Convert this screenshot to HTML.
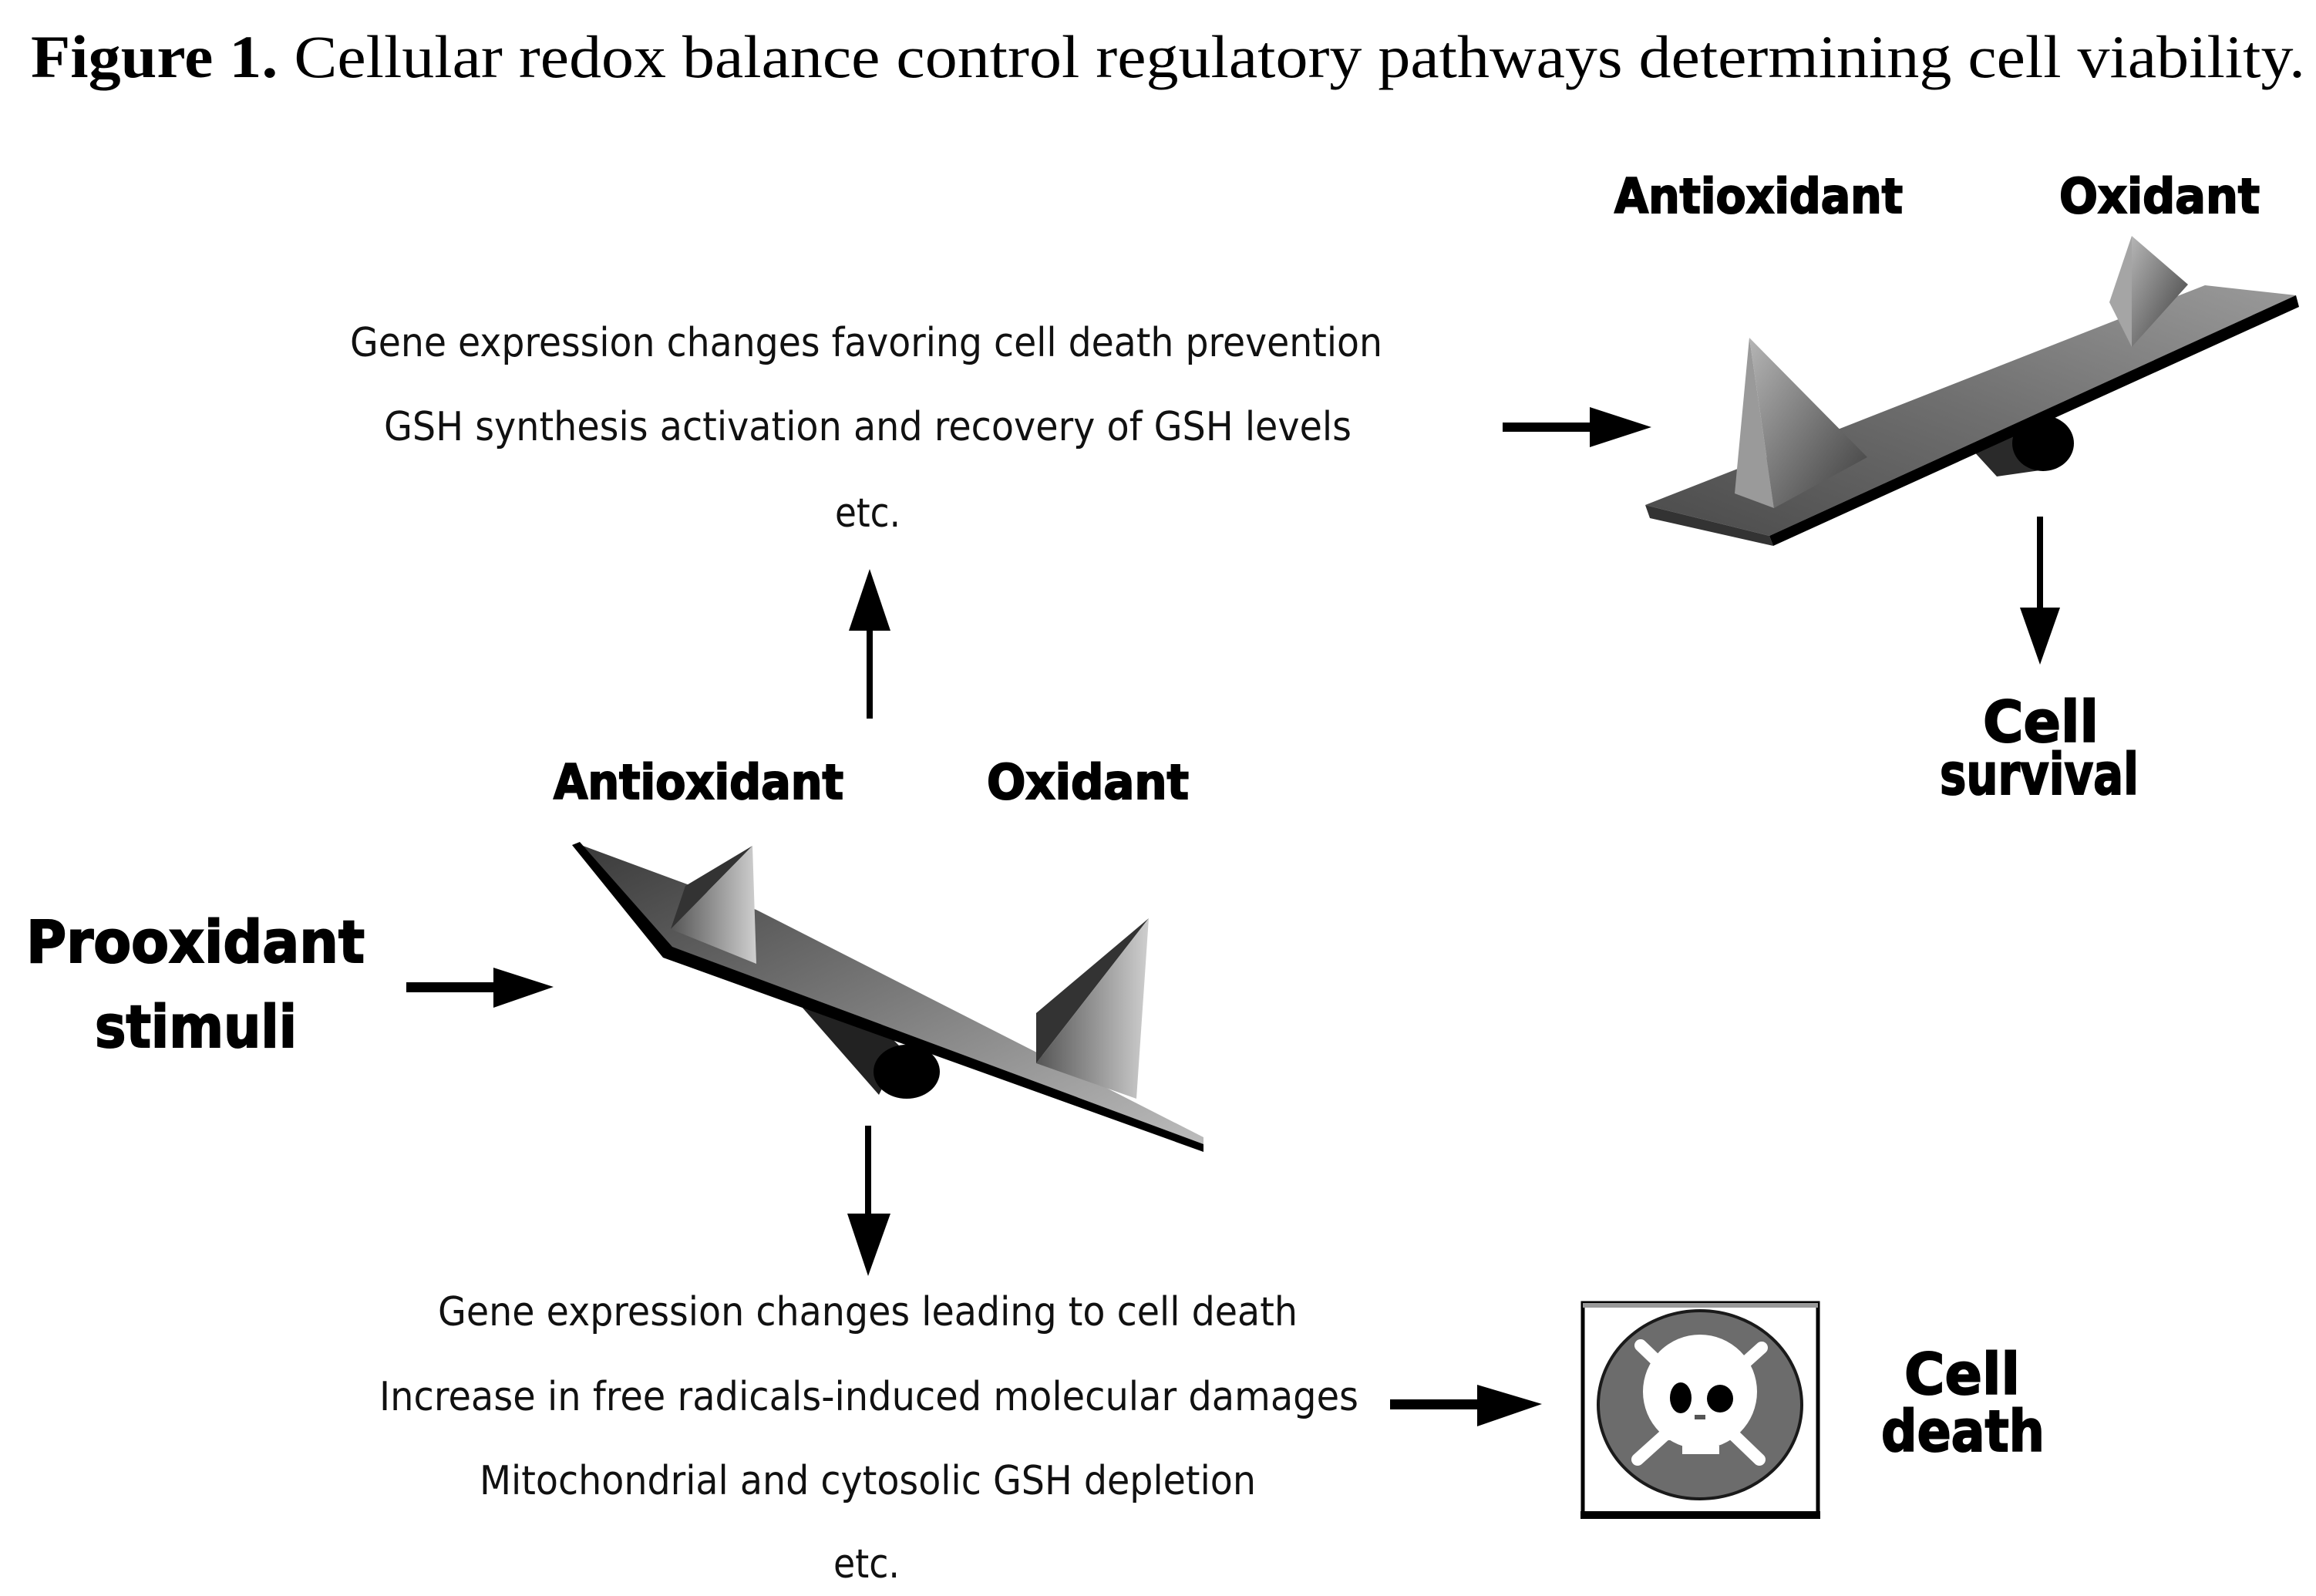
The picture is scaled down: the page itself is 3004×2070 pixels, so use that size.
<!DOCTYPE html>
<html><head><meta charset="utf-8"><style>
html,body{margin:0;padding:0;background:#fff;}
svg{display:block;}
</style></head><body>
<svg width="3004" height="2070" viewBox="0 0 3004 2070" xmlns="http://www.w3.org/2000/svg">
<defs>
<linearGradient id="g1" x1="0" y1="0" x2="1" y2="1">
<stop offset="0" stop-color="#3a3a3a"/><stop offset="0.5" stop-color="#7a7a7a"/><stop offset="1" stop-color="#bdbdbd"/>
</linearGradient>
<linearGradient id="g2" x1="0" y1="1" x2="1" y2="0">
<stop offset="0" stop-color="#4a4a4a"/><stop offset="0.5" stop-color="#6f6f6f"/><stop offset="1" stop-color="#9a9a9a"/>
</linearGradient>
<linearGradient id="sp" x1="0" y1="0" x2="1" y2="0">
<stop offset="0" stop-color="#555"/><stop offset="1" stop-color="#cfcfcf"/>
</linearGradient>
<linearGradient id="sp2" x1="0" y1="0" x2="1" y2="1">
<stop offset="0" stop-color="#b5b5b5"/><stop offset="1" stop-color="#3c3c3c"/>
</linearGradient>
</defs>

<!-- Title -->
<text x="40" y="100" font-family="Liberation Serif, serif" font-size="78" textLength="2950" lengthAdjust="spacingAndGlyphs"><tspan font-weight="bold">Figure 1.</tspan> Cellular redox balance control regulatory pathways determining cell viability.</text>

<g font-family="DejaVu Sans, Liberation Sans, sans-serif" font-size="52" fill="#111">
<text x="454" y="462" textLength="1339" lengthAdjust="spacingAndGlyphs">Gene expression changes favoring cell death prevention</text>
<text x="498" y="571" textLength="1255" lengthAdjust="spacingAndGlyphs">GSH synthesis activation and recovery of GSH levels</text>
<text x="1083" y="683" textLength="85" lengthAdjust="spacingAndGlyphs">etc.</text>
<text x="568" y="1719" textLength="1115" lengthAdjust="spacingAndGlyphs">Gene expression changes leading to cell death</text>
<text x="492" y="1829" textLength="1270" lengthAdjust="spacingAndGlyphs">Increase in free radicals-induced molecular damages</text>
<text x="622" y="1938" textLength="1007" lengthAdjust="spacingAndGlyphs">Mitochondrial and cytosolic GSH depletion</text>
<text x="1081" y="2046" textLength="86" lengthAdjust="spacingAndGlyphs">etc.</text>
</g>

<g font-family="DejaVu Sans, Liberation Sans, sans-serif" font-weight="bold" fill="#000" stroke="#000" stroke-width="2">
<text x="2094" y="276" font-size="62" textLength="374" lengthAdjust="spacingAndGlyphs">Antioxidant</text>
<text x="2671" y="276" font-size="62" textLength="260" lengthAdjust="spacingAndGlyphs">Oxidant</text>
<text x="718" y="1036" font-size="62" textLength="376" lengthAdjust="spacingAndGlyphs">Antioxidant</text>
<text x="1280" y="1036" font-size="62" textLength="262" lengthAdjust="spacingAndGlyphs">Oxidant</text>
<text x="34" y="1248" font-size="76" textLength="439" lengthAdjust="spacingAndGlyphs">Prooxidant</text>
<text x="123" y="1358" font-size="76" textLength="262" lengthAdjust="spacingAndGlyphs">stimuli</text>
<text x="2572" y="962" font-size="74" textLength="150" lengthAdjust="spacingAndGlyphs">Cell</text>
<text x="2516" y="1030" font-size="74" textLength="258" lengthAdjust="spacingAndGlyphs">survival</text>
<text x="2470" y="1808" font-size="74" textLength="150" lengthAdjust="spacingAndGlyphs">Cell</text>
<text x="2440" y="1882" font-size="74" textLength="212" lengthAdjust="spacingAndGlyphs">death</text>
</g>

<!-- Arrows -->
<g fill="#000" stroke="none">
<!-- up arrow -->
<rect x="1124" y="815" width="8" height="117"/>
<polygon points="1128,738 1101,818 1155,818"/>
<!-- down arrow bottom -->
<rect x="1122" y="1460" width="8" height="116"/>
<polygon points="1126,1655 1099,1574 1155,1574"/>
<!-- right arrow to death -->
<rect x="1803" y="1815" width="115" height="13"/>
<polygon points="2000,1821 1916,1796 1916,1850"/>
<!-- prooxidant arrow -->
<rect x="527" y="1274" width="115" height="13"/>
<polygon points="718,1280 640,1255 640,1307"/>
<!-- top right arrow -->
<rect x="1949" y="548" width="115" height="12"/>
<polygon points="2142,554 2062,528 2062,580"/>
<!-- survival down arrow -->
<rect x="2642" y="670" width="8" height="120"/>
<polygon points="2646,862 2620,788 2672,788"/>
</g>

<!-- Seesaw top-right -->
<polygon points="2557,582 2630,560 2660,608 2590,618" fill="#2a2a2a"/>
<ellipse cx="2650" cy="575" rx="40" ry="36" fill="#000"/>
<polygon points="2134,655 2860,370 2978,383 2295,695" fill="url(#g2)"/>
<polygon points="2295,695 2978,383 2982,398 2300,708" fill="#000"/>
<polygon points="2134,655 2295,695 2300,708 2140,672" fill="#333"/>
<polygon points="2269,438 2250,640 2301,659" fill="#9a9a9a"/>
<polygon points="2269,438 2301,659 2422,593" fill="url(#sp2)"/>
<polygon points="2765,306 2736,392 2765,450" fill="#a5a5a5"/>
<polygon points="2765,306 2765,450 2838,369" fill="url(#sp2)"/>

<!-- Seesaw bottom-left -->
<polygon points="1040,1306 1100,1290 1170,1360 1140,1420" fill="#222"/>
<ellipse cx="1176" cy="1390" rx="43" ry="35" fill="#000"/>
<polygon points="748,1094 981,1180 1561,1475 1561,1490 867,1235" fill="url(#g1)"/>
<polygon points="742,1096 752,1092 872,1228 1561,1484 1561,1494 860,1242" fill="#000"/>
<polygon points="976,1097 889,1149 870,1205" fill="#333"/>
<polygon points="976,1097 870,1205 981,1250" fill="url(#sp)"/>
<polygon points="1490,1191 1344,1314 1344,1379" fill="#333"/>
<polygon points="1490,1191 1344,1379 1474,1425" fill="url(#sp)"/>

<!-- Skull box -->
<rect x="2053" y="1690" width="305" height="277" fill="#fff" stroke="#000" stroke-width="5"/>
<rect x="2053" y="1690" width="305" height="6" fill="#999"/>
<rect x="2050" y="1960" width="311" height="10" fill="#000"/>
<ellipse cx="2205" cy="1822" rx="132" ry="122" fill="#6c6c6c" stroke="#1a1a1a" stroke-width="4"/>
<g stroke="#fff" stroke-width="16" stroke-linecap="round">
<line x1="2128" y1="1745" x2="2282" y2="1893"/>
<line x1="2285" y1="1748" x2="2124" y2="1893"/>
</g>
<circle cx="2205" cy="1805" r="74" fill="#fff"/>
<rect x="2159" y="1820" width="96" height="48" fill="#fff"/>
<rect x="2182" y="1875" width="48" height="11" fill="#fff"/>
<ellipse cx="2180" cy="1813" rx="14" ry="20" fill="#000"/>
<ellipse cx="2231" cy="1814" rx="17" ry="18" fill="#000"/>
<rect x="2198" y="1835" width="14" height="6" fill="#555"/>
</svg>
</body></html>
